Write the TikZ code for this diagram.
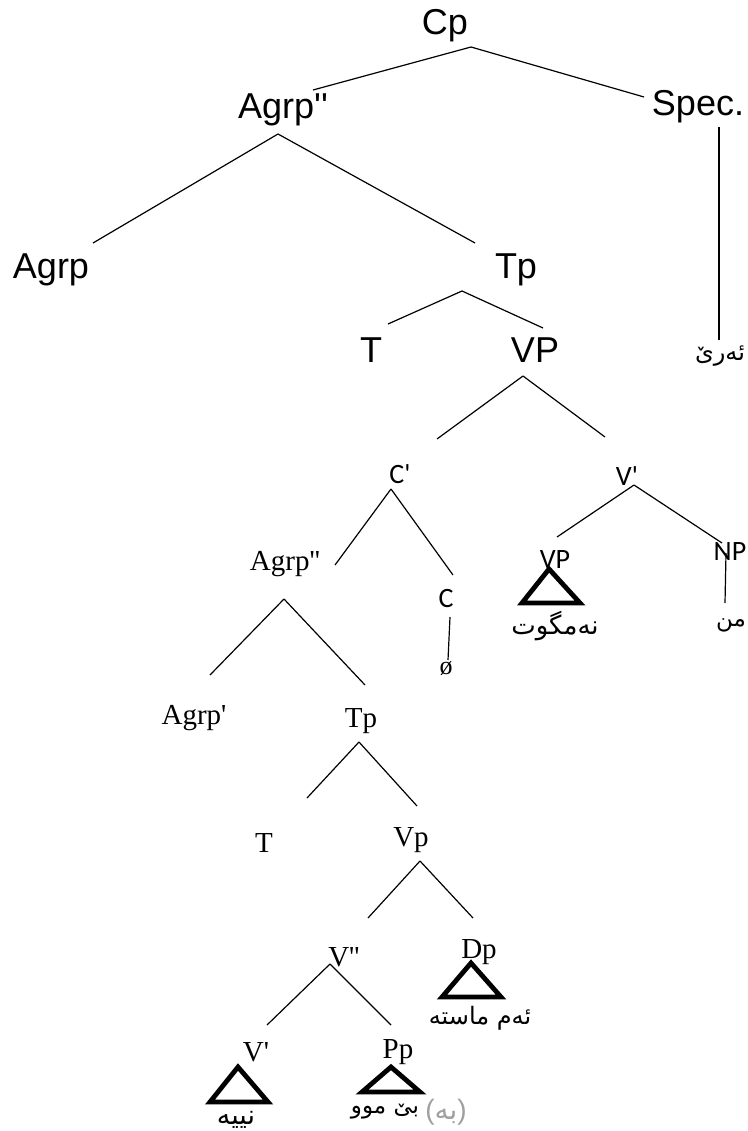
\documentclass[tikz,border=0pt]{standalone}
\usepackage{fontspec}
\usepackage{tikz}
\TeXXeTstate=1
\newfontfamily\arialf{Liberation Sans}
\newfontfamily\timesf{Liberation Serif}
\newfontfamily\calibf{Carlito}
\newfontfamily\arabf[Script=Arabic]{DejaVu Sans}
\newcommand{\ku}[1]{{\arabf\beginR #1\endR}}
\definecolor{paren}{HTML}{A0A0A0}

\begin{document}
\begin{tikzpicture}[x=1pt, y=-1pt,
  sanslab/.style={inner sep=0pt, font={\arialf\fontsize{36}{42}\selectfont}},
  caliblab/.style={inner sep=0pt, font={\calibf\fontsize{28}{34}\selectfont}},
  seriflab/.style={inner sep=0pt, font={\timesf\fontsize{29}{34}\selectfont}},
  kulab/.style={inner sep=0pt, font={\fontsize{#1}{#1}\selectfont}},
  kulab/.default=22,
  branch/.style={line width=1.2pt},
  tri/.style={line width=4.8pt}]
  \useasboundingbox (0,0) rectangle (747,1131);

  % upper tree
  \node[sanslab] (cp)    at (445,26)  {Cp};
  \node[sanslab] (agrpA) at (283,110) {Agrp''};
  \node[sanslab] (spec)  at (698,107) {Spec.};
  \node[sanslab] (agrp)  at (51,270)  {Agrp};
  \node[sanslab] (tpA)   at (516,270) {Tp};
  \node[sanslab] (tA)    at (371,350) {T};
  \node[sanslab] (vpA)   at (535,350) {VP};
  \node[kulab=24] (are)  at (720,356) {\ku{ئەرێ}};

  % middle
  \node[caliblab] (cbar) at (400,474) {C'};
  \node[caliblab] (vbar) at (627,476) {V'};
  \node[caliblab] (vpB)  at (555,560) {VP};
  \node[caliblab] (np)   at (730,552) {NP};
  \node[caliblab] (cC)   at (446,599) {C};
  \node[kulab=26] (nemgut) at (555,626) {\ku{نەمگوت}};
  \node[kulab=23] (men)    at (731,625) {\ku{من}};
  \node[inner sep=0pt, font={\timesf\fontsize{26}{28}\selectfont}] (zero) at (446,669) {ø};

  % lower tree
  \node[seriflab] (agrpB)  at (285,564) {Agrp''};
  \node[seriflab] (agrpP)  at (194,718) {Agrp'};
  \node[seriflab] (tpB)    at (361,721) {Tp};
  \node[seriflab] (tB)     at (264,843) {T};
  \node[seriflab] (vpC)    at (411,840) {Vp};
  \node[seriflab] (vbb)    at (344,957) {V''};
  \node[seriflab] (dp)     at (479,952) {Dp};
  \node[seriflab] (vprime) at (256,1052) {V'};
  \node[seriflab] (pp)     at (398,1052) {Pp};
  \node[kulab=24] (maste) at (480,1018) {\ku{ئەم ماستە}};
  \node[kulab=27] (niye)  at (236,1120) {\ku{نییە}};
  \node[kulab=23] (bemu)  at (385,1112) {\ku{بێ موو}};
  \node[inner sep=0pt, text=paren, font={\fontsize{28}{30}\selectfont}] (be) at (446,1112)
    {\arialf(\ku{بە}\arialf)};

  % branches: parent/offset/child/offset
  \foreach \pn/\po/\cn/\co in {
      cp/{26,21}/agrpA/{30,-20}, cp/{26,21}/spec/{-54,-10},
      agrpA/{-5,24}/agrp/{42,-27}, agrpA/{-5,24}/tpA/{-41,-27},
      spec/{21,20}/are/{-1,-16},
      tpA/{-54,21}/tA/{17,-26}, tpA/{-54,21}/vpA/{8,-22},
      vpA/{-12,26}/cbar/{37,-35}, vpA/{-12,26}/vbar/{-22,-39},
      cbar/{-9,15}/agrpB/{50,1}, cbar/{-9,15}/cC/{7,-24},
      vbar/{7,9}/vpB/{2,-23}, vbar/{7,9}/np/{-8,-9},
      np/{-4,1}/men/{-6,-22}, cC/{4,18}/zero/{2,-9},
      agrpB/{-1,35}/agrpP/{16,-43}, agrpB/{-1,35}/tpB/{4,-36},
      tpB/{-2,21}/tB/{43,-45}, tpB/{-2,21}/vpC/{6,-34},
      vpC/{9,21}/vbb/{24,-39}, vpC/{9,21}/dp/{-6,-34},
      vbb/{-14,7}/vprime/{11,-27}, vbb/{-14,7}/pp/{-7,-27}}
    \draw[branch] ([shift={(\po)}]\pn.center) -- ([shift={(\co)}]\cn.center);

  % triangles
  \draw[tri] ([shift={(-6,9)}]vpB.center) -- ++(-27,34) -- ++(58,0) -- cycle;
  \draw[tri] ([shift={(-8,11)}]dp.center) -- ++(-29,34) -- ++(59,0) -- cycle;
  \draw[tri] ([shift={(-18,15)}]vprime.center) -- ++(-28,35) -- ++(58,0) -- cycle;
  \draw[tri] ([shift={(-7,15)}]pp.center) -- ++(-29,25) -- ++(58,0) -- cycle;
\end{tikzpicture}
\end{document}
